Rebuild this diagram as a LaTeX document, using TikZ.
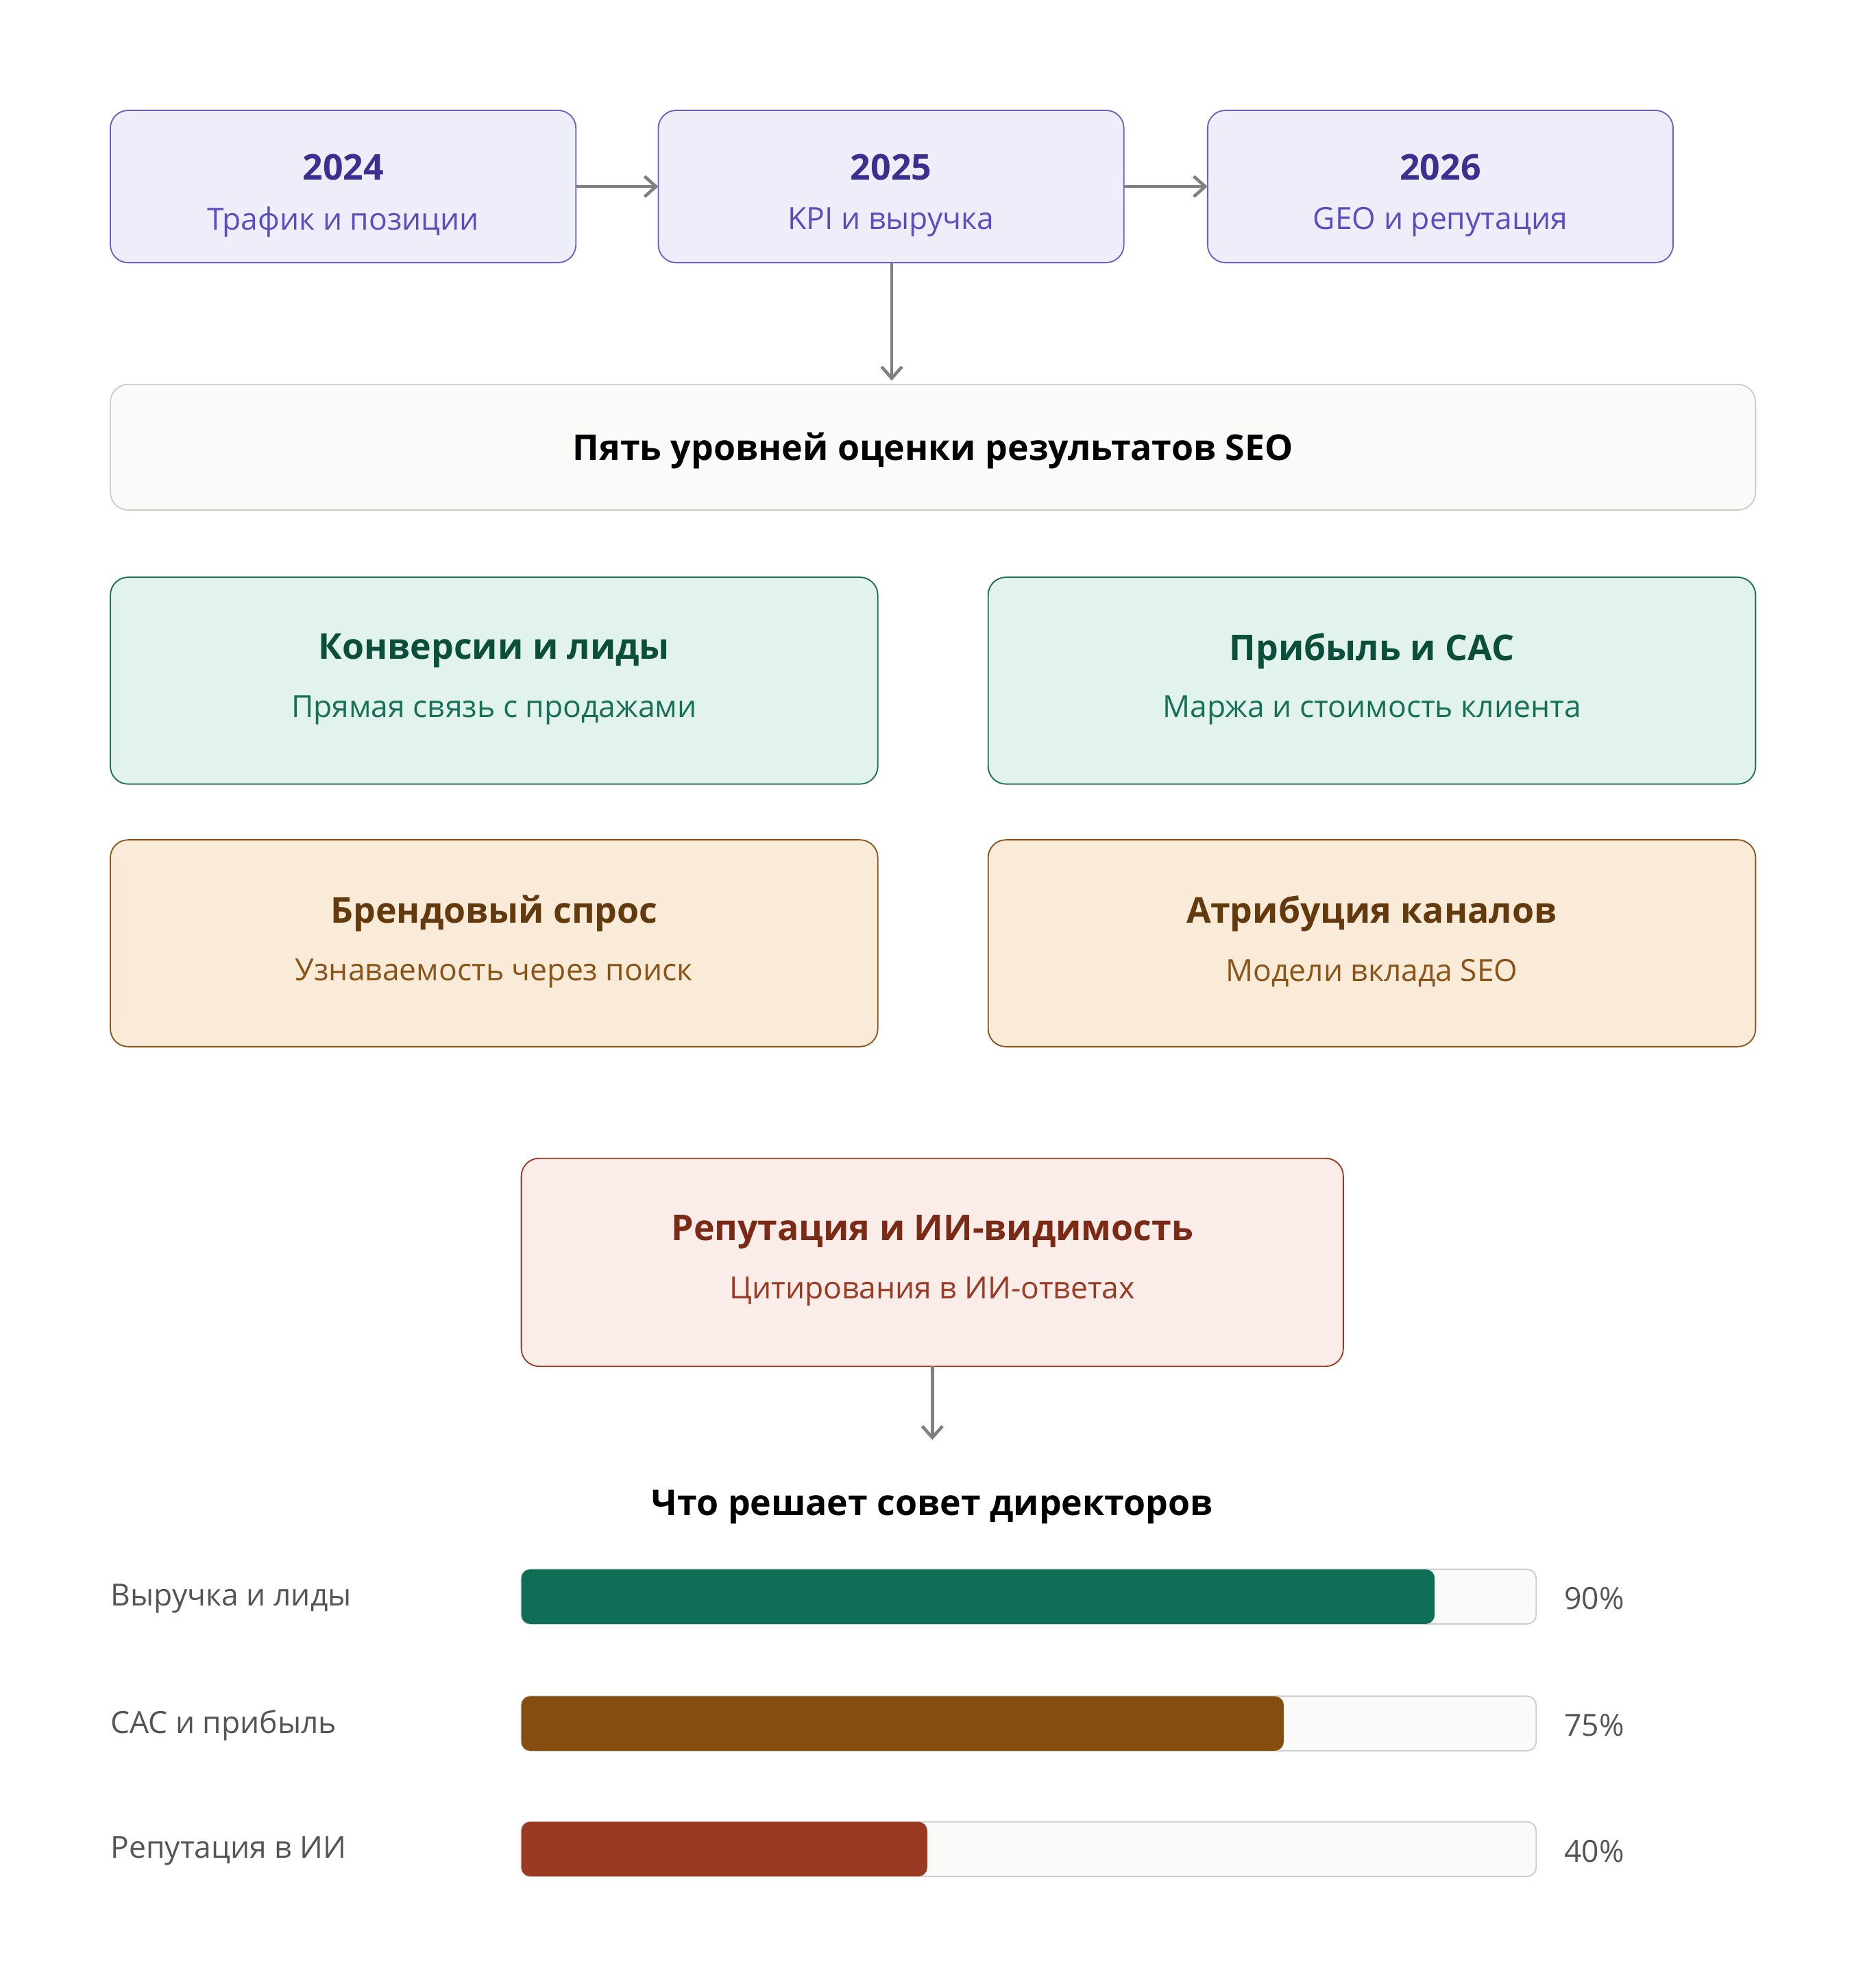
\documentclass[tikz,border=0pt]{standalone}
\usepackage{fontspec}
\setmainfont{Open Sans}
\usetikzlibrary{arrows.meta}
\definecolor{pfill}{HTML}{EEEEFB}\definecolor{pstroke}{HTML}{6A5FC8}
\definecolor{ptitle}{HTML}{3B2F8F}\definecolor{psub}{HTML}{5A4DC0}
\definecolor{gfill}{HTML}{E1F3EC}\definecolor{gstroke}{HTML}{1A6E50}
\definecolor{gtitle}{HTML}{0B4F3A}\definecolor{gsub}{HTML}{167055}
\definecolor{ofill}{HTML}{FAEBD9}\definecolor{ostroke}{HTML}{8A5418}
\definecolor{otitle}{HTML}{633A0E}\definecolor{osub}{HTML}{8A5418}
\definecolor{rfill}{HTML}{FAECE8}\definecolor{rstroke}{HTML}{9B3A22}
\definecolor{rtitle}{HTML}{7A2A15}\definecolor{rsub}{HTML}{9B3A22}
\definecolor{track}{HTML}{FAFAF8}\definecolor{trackline}{HTML}{CCCCCC}
\definecolor{lbl}{HTML}{555555}\definecolor{arr}{HTML}{808080}
\definecolor{b1}{HTML}{0F6E56}\definecolor{b2}{HTML}{854D0E}\definecolor{b3}{HTML}{9A3A22}
\begin{document}
\begin{tikzpicture}[x=1pt,y=-1pt,
  box/.style={rounded corners=14pt,line width=1pt},
  ttl/.style={font=\fontsize{28}{32}\selectfont\bfseries},
  sub/.style={font=\fontsize{24}{28}\selectfont},
  conn/.style={draw=arr,line width=2.5pt,-{Straight Barb[length=9pt,width=16pt]}},
  bl/.style={font=\fontsize{24}{28}\selectfont,text=lbl}]
\useasboundingbox (0,0) rectangle (1470,1567);
% top boxes
\foreach \n/\x/\y/\s in {a/87/2024/Трафик и позиции,b/519/2025/KPI и выручка,c/952/2026/GEO и репутация}{
  \draw[box,fill=pfill,draw=pstroke] (\x,87) rectangle ++(367,120);
  \node[ttl,text=ptitle] (\n t) at (\x+183.5,132) {\y};
  \node[sub,text=psub] (\n s) at (\x+183.5,175) {\s};
  \coordinate (\n W) at (\x,147); \coordinate (\n E) at (\x+367,147);
  \coordinate (\n S) at (\x+184,207);
}
\coordinate (hN) at (703,300);
\draw[conn] (aE) -- (bW);
\draw[conn] (bE) -- (cW);
\draw[conn] (bS) -- (hN);
% header
\draw[box,fill=track,draw=trackline] (87,303) rectangle (1384,402);
\node[ttl,text=black,font=\fontsize{28}{32}\selectfont\bfseries] (hdr) at (735.5,355) {Пять уровней оценки результатов SEO};
% level boxes
\foreach \n/\x/\y/\c/\t/\s in {
  g1/87/455/g/Конверсии и лиды/Прямая связь с продажами,
  g2/779/455/g/Прибыль и CAC/Маржа и стоимость клиента,
  o1/87/662/o/Брендовый спрос/Узнаваемость через поиск,
  o2/779/662/o/Атрибуция каналов/Модели вклада SEO}{
  \draw[box,fill=\c fill,draw=\c stroke] (\x,\y) rectangle ++(605,163);
  \node[ttl,text=\c title] (\n t) at (\x+302.5,\y+58) {\t};
  \node[sub,text=\c sub] (\n s) at (\x+302.5,\y+105) {\s};
}
\draw[box,fill=rfill,draw=rstroke] (411,913) rectangle (1059,1077);
\node[ttl,text=rtitle] (rt) at (735,971) {Репутация и ИИ-видимость};
\node[sub,text=rsub] (rs) at (735,1018) {Цитирования в ИИ-ответах};
\coordinate (rS) at (735,1077); \coordinate (chN) at (735,1135);
\draw[conn] (rS) -- (chN);
\node[ttl,text=black] (ch) at (735,1188) {Что решает совет директоров};
% bars
\foreach \n/\y/\e/\c/\l/\p in {1/1237/1131/b1/Выручка и лиды/90\%,2/1337/1012/b2/CAC и прибыль/75\%,3/1436/731/b3/Репутация в ИИ/40\%}{
  \draw[fill=track,draw=trackline,line width=1pt,rounded corners=7pt] (411,\y) rectangle (1211,\y+43);
  \fill[\c,rounded corners=7pt] (411,\y) rectangle (\e,\y+43);
  \node[bl,anchor=west,inner sep=0] (l\n) at (87,\y+23) {\l};
  \node[bl,anchor=west,inner sep=0] (p\n) at (1233,\y+23) {\p};
}
\end{tikzpicture}
\end{document}
